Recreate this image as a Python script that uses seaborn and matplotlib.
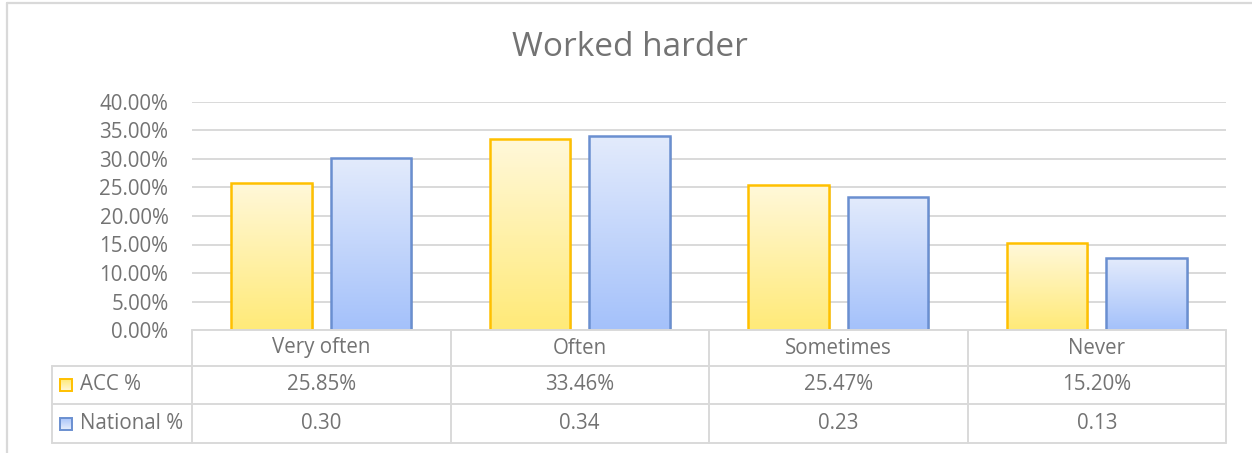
import numpy as np
import pandas as pd
import matplotlib
matplotlib.use("Agg")
import matplotlib.pyplot as plt
import matplotlib.transforms as mtransforms
from matplotlib.colors import LinearSegmentedColormap
from matplotlib.patches import Rectangle
from matplotlib.ticker import PercentFormatter
import seaborn as sns

# Data
title = "Worked harder"
categories = ["Very often", "Often", "Sometimes", "Never"]
series = ["ACC %", "National %"]
acc_pct = [0.2585, 0.3346, 0.2547, 0.1520]
national_pct = [0.301, 0.340, 0.234, 0.126]
y_ticks = [0.0, 0.05, 0.10, 0.15, 0.20, 0.25, 0.30, 0.35, 0.40]

df = pd.DataFrame({
    "category": categories * 2,
    "series": [series[0]] * len(categories) + [series[1]] * len(categories),
    "value": acc_pct + national_pct,
})
table_text = {
    series[0]: [f"{v:.2%}" for v in acc_pct],
    series[1]: [f"{v:.2f}" for v in national_pct],
}

sns.set_theme(style="white")
plt.rcParams["font.family"] = ["Open Sans", "DejaVu Sans"]

TXT = "#737373"
LINE = "#D9D9D9"
FS = 14.8
edge = {series[0]: "#FFC000", series[1]: "#6A8FD0"}
grad = {series[0]: ("#FFEA78", "#FFF8DA"), series[1]: ("#A4C1FA", "#E3EBFC")}  # bottom, top

W, H = 1252, 453
fig = plt.figure(figsize=(W / 100, H / 100), dpi=100)

# plot area in pixels
left, right, top, bottom = 192, 1226, 102, 330
ax = fig.add_axes([left / W, 1 - bottom / H, (right - left) / W, (bottom - top) / H])

sns.barplot(data=df, x="category", y="value", hue="series", order=categories,
            hue_order=series, palette=edge, width=0.77, gap=0.19, legend=False,
            ax=ax, zorder=3)

shadow_tr = mtransforms.offset_copy(ax.transData, fig=fig, x=2, y=-1, units="dots")
for cont, s in zip(ax.containers, series):
    cmap = LinearSegmentedColormap.from_list(s, list(grad[s]))
    for bar in cont:
        x0, w, h = bar.get_x(), bar.get_width(), bar.get_height()
        bar.set_facecolor("none")
        bar.set_edgecolor(edge[s])
        bar.set_linewidth(1.8)
        sh = Rectangle((x0, 0), w, h, transform=shadow_tr, facecolor="#000000",
                       alpha=0.12, edgecolor="none", zorder=2.4)
        ax.add_patch(sh)
        img = ax.imshow(np.linspace(0, 1, 256).reshape(-1, 1), cmap=cmap,
                        origin="lower", extent=[x0, x0 + w, 0, h],
                        aspect="auto", zorder=2.5, interpolation="bilinear")
        img.set_clip_path(bar)

ax.set_xlim(-0.5, len(categories) - 0.5)
ax.set_ylim(0, 0.40)
ax.set_yticks(y_ticks)
ax.yaxis.set_major_formatter(PercentFormatter(1, decimals=2))
ax.set_xticks([])
ax.set_xlabel("")
ax.set_ylabel("")
ax.tick_params(axis="y", length=0, pad=17, labelsize=FS, labelcolor=TXT)
ax.grid(axis="y", color=LINE, lw=1.4)
ax.set_axisbelow(True)
for sp in ax.spines.values():
    sp.set_visible(False)

# overlay in pixel coordinates for the chart border and data table
ov = fig.add_axes([0, 0, 1, 1])
ov.set_xlim(0, W)
ov.set_ylim(H, 0)
ov.axis("off")
ov.patch.set_alpha(0)

ov.plot([7, 7], [3, H], color=LINE, lw=1.6)
ov.plot([7, W], [3, 3], color=LINE, lw=1.6)

ov.text(630, 47, title, ha="center", va="center", fontsize=24, color=TXT)

rows = [330, 366, 404, 443]
tab_left = 52
ov.plot([left, right], [rows[0], rows[0]], color=LINE, lw=1.4)
for y in rows[1:]:
    ov.plot([tab_left, right], [y, y], color=LINE, lw=1.4)
ov.plot([tab_left, tab_left], [rows[1], rows[-1]], color=LINE, lw=1.4)
bx = mtransforms.blended_transform_factory(ax.transData, ov.transData)
for xb in np.arange(len(categories) + 1) - 0.5:
    ov.plot([xb, xb], [rows[0], rows[-1]], color=LINE, lw=1.4, transform=bx)

for i, c in enumerate(categories):
    ov.text(i, (rows[0] + rows[1]) / 2, c, ha="center", va="center",
            fontsize=FS, color=TXT, transform=bx)

for r, s in enumerate(series):
    yc = (rows[r + 1] + rows[r + 2]) / 2
    cmap = LinearSegmentedColormap.from_list(s + "_key", list(grad[s]))
    key = Rectangle((60, yc - 6), 12, 12, facecolor="none", edgecolor=edge[s], lw=1.4, zorder=3)
    ov.add_patch(key)
    kimg = ov.imshow(np.linspace(0, 1, 64).reshape(-1, 1), cmap=cmap, origin="upper",
                     extent=[60, 72, yc + 6, yc - 6], aspect="auto", zorder=2)
    kimg.set_clip_path(key)
    ov.text(80, yc, s, ha="left", va="center", fontsize=FS, color=TXT)
    for i, t in enumerate(table_text[s]):
        ov.text(i, yc, t, ha="center", va="center", fontsize=FS, color=TXT, transform=bx)

ov.set_xlim(0, W)
ov.set_ylim(H, 0)

fig.savefig("out.png", dpi=100)
